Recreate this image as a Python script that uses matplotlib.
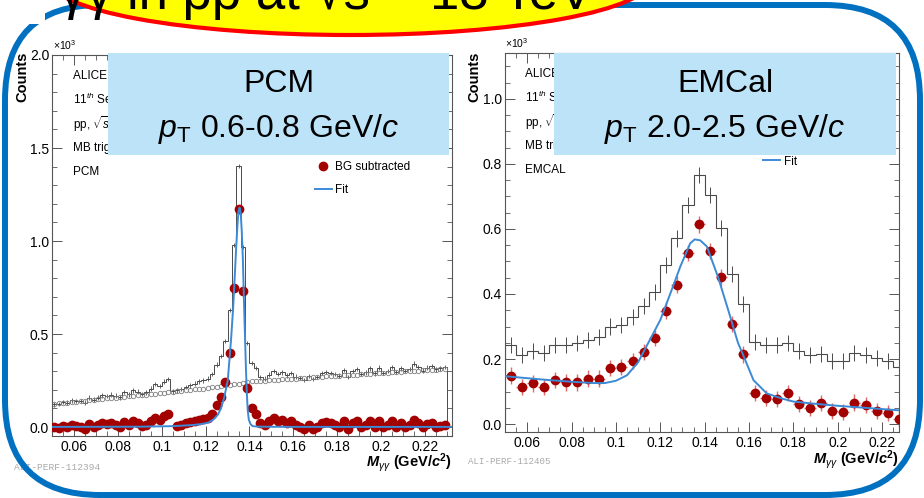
import matplotlib
matplotlib.use('Agg')
import matplotlib.pyplot as plt
import numpy as np
from matplotlib.patches import FancyBboxPatch, Ellipse, Rectangle
from matplotlib.ticker import MultipleLocator, FuncFormatter

plt.rcParams['font.family'] = ['Liberation Sans', 'DejaVu Sans']
plt.rcParams['mathtext.fontset'] = 'custom'
plt.rcParams['mathtext.rm'] = 'Liberation Sans'
plt.rcParams['mathtext.it'] = 'Liberation Sans:italic'
plt.rcParams['mathtext.bf'] = 'Liberation Sans:bold:italic'
plt.rcParams['mathtext.sf'] = 'Liberation Sans:bold'

W, H = 924, 498

# ---- PCM, pT 0.6-0.8 GeV/c : 2 MeV bins (x10^3 counts)
pcm_edges = np.arange(0.050, 0.2301, 0.002)
pcm_raw = [0.122, 0.124, 0.134, 0.131, 0.143, 0.141, 0.139, 0.132, 0.158, 0.147,
           0.158, 0.170, 0.168, 0.175, 0.169, 0.160, 0.188, 0.176, 0.197, 0.190,
           0.178, 0.186, 0.207, 0.231, 0.222, 0.244, 0.258, 0.192, 0.197, 0.205,
           0.216, 0.224, 0.233, 0.245, 0.251, 0.261, 0.284, 0.336, 0.381, 0.463,
           0.628, 0.980, 1.404, 0.968, 0.452, 0.344, 0.318, 0.267, 0.261, 0.282,
           0.300, 0.285, 0.294, 0.278, 0.292, 0.271, 0.263, 0.254, 0.274, 0.258,
           0.269, 0.290, 0.296, 0.292, 0.286, 0.277, 0.307, 0.270, 0.300, 0.311,
           0.285, 0.294, 0.316, 0.288, 0.319, 0.292, 0.302, 0.323, 0.297, 0.316,
           0.300, 0.311, 0.341, 0.322, 0.304, 0.320, 0.327, 0.310, 0.315, 0.322]
pcm_bg = [0.125, 0.127, 0.130, 0.132, 0.134, 0.137, 0.139, 0.142, 0.144, 0.146,
          0.149, 0.151, 0.154, 0.156, 0.158, 0.161, 0.163, 0.166, 0.168, 0.170,
          0.173, 0.175, 0.178, 0.180, 0.182, 0.185, 0.187, 0.190, 0.192, 0.194,
          0.197, 0.199, 0.202, 0.204, 0.207, 0.210, 0.213, 0.217, 0.220, 0.224,
          0.227, 0.231, 0.234, 0.238, 0.241, 0.245, 0.246, 0.248, 0.250, 0.251,
          0.253, 0.254, 0.256, 0.257, 0.259, 0.260, 0.262, 0.264, 0.265, 0.267,
          0.268, 0.270, 0.272, 0.273, 0.275, 0.276, 0.278, 0.279, 0.281, 0.282,
          0.284, 0.285, 0.287, 0.288, 0.290, 0.291, 0.293, 0.294, 0.296, 0.297,
          0.299, 0.300, 0.302, 0.303, 0.305, 0.306, 0.308, 0.309, 0.311, 0.312]
pcm_sub = [0.000, -0.005, 0.005, 0.000, 0.010, 0.005, 0.000, -0.010, 0.015, 0.000,
           0.010, 0.020, 0.015, 0.020, 0.010, 0.000, 0.025, 0.010, 0.030, 0.020,
           0.005, 0.010, 0.030, 0.050, 0.040, 0.060, 0.070, np.nan, 0.005, 0.010,
           0.020, 0.025, 0.030, 0.040, 0.045, 0.050, 0.070, 0.120, 0.160, 0.240,
           0.400, 0.750, 1.170, 0.730, 0.210, 0.100, 0.070, 0.020, 0.010, 0.030,
           0.050, 0.030, 0.040, 0.020, 0.035, 0.010, 0.000, -0.010, 0.010, -0.010,
           0.000, 0.020, 0.025, 0.020, 0.010, 0.000, 0.030, -0.010, 0.020, 0.030,
           0.000, 0.010, 0.030, 0.000, 0.030, 0.000, 0.010, 0.030, 0.000, 0.020,
           0.000, 0.010, 0.040, 0.020, 0.000, 0.015, 0.020, 0.000, 0.005, 0.010]
pcm_fit_x = [0.050, 0.090, 0.105, 0.113, 0.118, 0.121, 0.1235, 0.1255, 0.127, 0.1285,
             0.1301, 0.1316, 0.1325, 0.1332, 0.1340, 0.1346, 0.1350, 0.1355, 0.1360,
             0.1365, 0.1370, 0.1375, 0.1380, 0.1384, 0.1388, 0.1392, 0.1397, 0.1405,
             0.1415, 0.1440, 0.1600, 0.2323]
pcm_fit_y = [0.001, 0.002, 0.005, 0.010, 0.016, 0.023, 0.040, 0.065, 0.100, 0.160,
             0.250, 0.470, 0.630, 0.790, 0.980, 1.100, 1.160, 1.180, 1.150,
             1.050, 0.900, 0.670, 0.470, 0.310, 0.180, 0.090, 0.040, 0.015,
             0.005, 0.002, 0.001, 0.001]
PCM_RAW_ERR = 0.012

# ---- EMCal, pT 2.0-2.5 GeV/c : 5 MeV bins (x10^3 counts)
emc_edges = np.arange(0.050, 0.2301, 0.005)
emc_raw = [0.243, 0.212, 0.225, 0.219, 0.243, 0.243, 0.250, 0.258, 0.267, 0.300,
           0.305, 0.330, 0.363, 0.405, 0.489, 0.571, 0.674, 0.766, 0.705, 0.602,
           0.461, 0.369, 0.253, 0.243, 0.243, 0.250, 0.225, 0.212, 0.215, 0.195,
           0.195, 0.219, 0.212, 0.202, 0.195, 0.174]
emc_sub = [0.149, 0.115, 0.125, 0.115, 0.135, 0.128, 0.128, 0.140, 0.140, 0.173,
           0.175, 0.195, 0.222, 0.264, 0.349, 0.429, 0.525, 0.614, 0.532, 0.451,
           0.307, 0.214, 0.096, 0.081, 0.077, 0.096, 0.061, 0.050, 0.064, 0.040,
           0.036, 0.066, 0.058, 0.041, 0.033, 0.015]
emc_fit_x = [0.050, 0.060, 0.070, 0.080, 0.090, 0.095, 0.100, 0.105, 0.110, 0.115,
             0.120, 0.125, 0.129, 0.1335, 0.1355, 0.138, 0.141, 0.146, 0.1506,
             0.155, 0.1575, 0.162, 0.168, 0.175, 0.180, 0.190, 0.200, 0.210,
             0.220, 0.2276]
emc_fit_y = [0.147, 0.141, 0.135, 0.130, 0.126, 0.126, 0.133, 0.150, 0.190, 0.255,
             0.320, 0.410, 0.484, 0.556, 0.568, 0.565, 0.546, 0.453, 0.351,
             0.250, 0.210, 0.135, 0.094, 0.078, 0.069, 0.062, 0.056, 0.051,
             0.046, 0.042]
EMC_ERR = 0.025
EMC_XERR = 0.0025

pcm_centers = 0.5 * (pcm_edges[:-1] + pcm_edges[1:])
emc_centers = 0.5 * (emc_edges[:-1] + emc_edges[1:])

RED = '#A30000'
FIT = '#3C8AD6'
HIST = '#4a4a4a'

fig = plt.figure(figsize=(W / 100, H / 100), dpi=100)


def px_axes(x0, y0, x1, y1):
    return fig.add_axes([x0 / W, 1 - y1 / H, (x1 - x0) / W, (y1 - y0) / H])


def root_style(ax, ymajor, yminor):
    ax.xaxis.set_major_locator(MultipleLocator(0.02))
    ax.xaxis.set_minor_locator(MultipleLocator(0.005))
    ax.yaxis.set_major_locator(MultipleLocator(ymajor))
    ax.yaxis.set_minor_locator(MultipleLocator(yminor))
    ax.xaxis.set_major_formatter(FuncFormatter(lambda v, p: f'{v:g}'))
    ax.yaxis.set_major_formatter(FuncFormatter(lambda v, p: f'{v:.1f}'))
    ax.tick_params(which='both', direction='in', top=True, right=True,
                   labelsize=10, color='#555555')
    ax.tick_params(which='major', length=7, width=0.7)
    ax.tick_params(which='minor', length=3.5, width=0.6)
    ax.tick_params(axis='x', pad=3)
    ax.tick_params(axis='y', pad=2)
    for s in ax.spines.values():
        s.set_color('#555555')
        s.set_linewidth(0.8)


# left panel: PCM
ax1 = px_axes(52, 55, 452, 436)
ax1.stairs(pcm_raw, pcm_edges, color=HIST, lw=0.7)
ax1.errorbar(pcm_centers, pcm_raw, yerr=PCM_RAW_ERR, fmt='none', ecolor=HIST, elinewidth=0.6)
ax1.plot(pcm_centers, pcm_bg, 'o', mfc='none', mec='#808080', ms=3.2, mew=0.6)
h_sub1, = ax1.plot(pcm_centers, pcm_sub, 'o', color=RED, ms=6, label='BG subtracted', zorder=3)
h_fit1, = ax1.plot(pcm_fit_x, pcm_fit_y, color=FIT, lw=1.4, label='Fit', zorder=4)
ax1.set_xlim(0.05, 0.2323)
ax1.set_ylim(-0.048, 2.0)
root_style(ax1, 0.5, 0.1)
ax1.legend(handles=[h_sub1, h_fit1], loc='upper left', bbox_to_anchor=(0.6575, 0.7205),
           frameon=False, fontsize=8.5, handlelength=1.4, handletextpad=0.3,
           labelspacing=0.93, borderpad=0, borderaxespad=0)
for i, t in enumerate(['ALICE Performance', '11$^{th}$ Sep 2015', 'pp, $\\sqrt{s}$ = 13 TeV',
                       'MB trigger', 'PCM']):
    ax1.text(0.0525, (436 - (76 + 24 * i)) / 381, t, transform=ax1.transAxes,
             va='center', ha='left', fontsize=8.5)

# right panel: EMCal
ax2 = px_axes(505, 53, 899, 432)
ax2.stairs(emc_raw, emc_edges, color=HIST, lw=0.8)
ax2.errorbar(emc_centers, emc_raw, yerr=EMC_ERR, fmt='none', ecolor=HIST, elinewidth=0.7)
h_sub2 = ax2.errorbar(emc_centers, emc_sub, yerr=EMC_ERR, xerr=EMC_XERR, fmt='o', color=RED,
                      ms=6, ecolor='#E06A6A', elinewidth=1.0, label='BG subtracted', zorder=3)
h_fit2, = ax2.plot(emc_fit_x, emc_fit_y, color=FIT, lw=1.4, label='Fit', zorder=4)
ax2.set_xlim(0.05, 0.2276)
ax2.set_ylim(-0.0246, 1.1415)
root_style(ax2, 0.2, 0.05)
ax2.legend(handles=[h_sub2, h_fit2], loc='upper left', bbox_to_anchor=(0.655, 0.790),
           frameon=False, fontsize=8.5, handlelength=1.4, handletextpad=0.4,
           labelspacing=0.93, borderpad=0, borderaxespad=0)
for i, t in enumerate(['ALICE Performance', '11$^{th}$ Sep 2015', 'pp, $\\sqrt{s}$ = 13 TeV',
                       'MB trigger', 'EMCAL']):
    ax2.text(0.0508, (432 - (74 + 24 * i)) / 379, t, transform=ax2.transAxes,
             va='center', ha='left', fontsize=8.5)

# slide decorations in pixel coordinates
ov = fig.add_axes([0, 0, 1, 1], zorder=10)
ov.set_xlim(0, W)
ov.set_ylim(H, 0)
ov.axis('off')

for x0, x1, line1, line2 in [(108, 449, 'PCM', '$\\mathit{p}_{\\mathrm{T}}$ 0.6-0.8 GeV/$\\mathit{c}$'),
                             (554, 896, 'EMCal', '$\\mathit{p}_{\\mathrm{T}}$ 2.0-2.5 GeV/$\\mathit{c}$')]:
    ov.add_patch(Rectangle((x0, 53), x1 - x0, 102, fc='#BDE3F9', ec='none', zorder=1))
    xc = 0.5 * (x0 + x1)
    ov.text(xc, 84, line1, ha='center', va='center', fontsize=23, zorder=2)
    ov.text(xc, 129, line2, ha='center', va='center', fontsize=23, zorder=2)

for xc, xr, yl in [(22, 452, 463), (474, 899, 460)]:
    ov.text(xc, 52, 'Counts', rotation=90, ha='center', va='top',
            fontsize=10.5, fontweight='bold')
    ov.text(xr, yl, '$\\mathbf{M}_{\\mathit{\\gamma\\gamma}}$ (GeV/$\\mathbf{c}^{\\mathsf{2}}$)',
            ha='right', va='center', fontsize=10.5, fontweight='bold')
ov.text(53, 45, '$\\times$10$^{3}$', ha='left', va='center', fontsize=7.5)
ov.text(505, 43, '$\\times$10$^{3}$', ha='left', va='center', fontsize=7.5)
ov.text(14, 467, 'ALI-PERF-112394', family='Liberation Mono', color='#aaaaaa',
        fontsize=6.8, ha='left', va='center')
ov.text(468, 461, 'ALI-PERF-112405', family='Liberation Mono', color='#aaaaaa',
        fontsize=6.6, ha='left', va='center')

ov.add_patch(FancyBboxPatch((5, 5), 915, 490, boxstyle='round,pad=0,rounding_size=95',
                            fill=False, ec='#0070C0', lw=4.3, zorder=3))
banner = Ellipse((350, -20), 600, 110, fc='#FFFF00', ec='#FF0000', lw=3, zorder=4)
ov.add_patch(banner)
ov.text(593, 9, '\u03c0\u2070 \u2192 \u03b3\u03b3 in pp at \u221as = 13 TeV',
        ha='right', va='baseline', fontsize=38, zorder=5)
# the banner sits mostly above the slide edge; hide what spills out at its left end
ov.add_patch(Rectangle((0, 0), 45, 24, fc='white', ec='none', zorder=6))

fig.savefig('out.png', dpi=100)
